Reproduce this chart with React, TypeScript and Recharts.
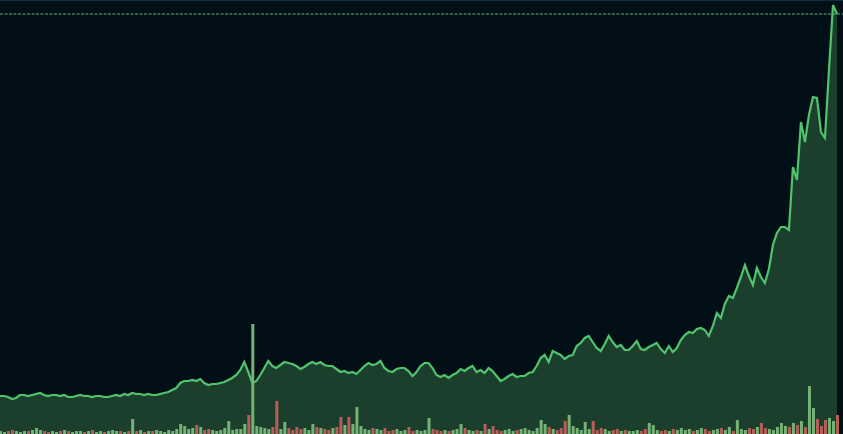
import { ComposedChart, Area, Bar, Cell, XAxis, YAxis, ReferenceLine } from "recharts";

// closing price, one entry per session (oldest first)
const prices = [
  3.8, 3.8, 3.7, 3.5, 3.6, 3.9, 3.9, 3.8, 3.9, 4.0,
  4.1, 3.9, 3.8, 3.9, 3.9, 3.8, 3.9, 3.7, 3.7, 3.8,
  3.9, 3.8, 3.8, 3.7, 3.8, 3.8, 3.7, 3.7, 3.8, 3.9,
  3.8, 4.0, 3.9, 4.1, 4.0, 4.0, 3.9, 4.0, 3.9, 3.9,
  4.0, 4.1, 4.2, 4.4, 4.6, 5.1, 5.3, 5.3, 5.4, 5.3,
  5.5, 5.1, 4.9, 5.0, 5.0, 5.1, 5.2, 5.4, 5.6, 5.9,
  6.4, 7.2, 6.2, 5.1, 5.3, 5.9, 6.6, 7.3, 6.8, 6.6,
  6.9, 7.2, 7.1, 7.0, 6.8, 6.5, 6.7, 7.0, 7.2, 7.0,
  7.2, 6.9, 6.8, 6.8, 6.5, 6.2, 6.3, 6.1, 6.2, 6.0,
  6.4, 6.8, 7.1, 6.9, 7.0, 7.3, 6.6, 6.3, 6.2, 6.5,
  6.6, 6.6, 6.3, 5.8, 6.2, 6.8, 7.1, 7.1, 6.6, 5.9,
  5.7, 5.9, 5.6, 5.9, 6.1, 6.5, 6.3, 6.6, 6.8, 6.2,
  6.4, 6.1, 6.6, 6.3, 5.8, 5.3, 5.5, 5.8, 6.0, 5.7,
  5.8, 5.8, 6.1, 6.2, 6.8, 7.6, 7.9, 7.2, 8.3, 8.1,
  7.9, 7.5, 7.8, 7.9, 8.8, 9.1, 9.6, 9.8, 9.2, 8.6,
  8.3, 9.0, 9.8, 9.2, 8.7, 8.9, 8.4, 8.4, 8.8, 9.3,
  8.5, 8.4, 8.7, 8.9, 9.1, 8.5, 8.1, 8.8, 8.2, 8.6,
  9.4, 9.9, 10.2, 10.1, 10.5, 10.6, 10.4, 9.8, 10.8, 12.1,
  11.6, 13.0, 13.8, 13.6, 14.6, 15.7, 16.9, 15.8, 14.9, 16.6,
  15.7, 15.1, 16.5, 18.9, 20.1, 20.7, 20.7, 20.4, 26.7, 25.4,
  31.2, 29.2, 31.9, 33.7, 33.6, 30.2, 29.6, 36.4, 42.9, 42.0,
];

// traded volume per session, thousands
const volumes = [
  3, 2, 3, 4, 3, 2, 3, 3, 4, 6,
  4, 3, 2, 3, 2, 3, 4, 3, 2, 3,
  3, 2, 3, 4, 2, 3, 2, 3, 4, 3,
  3, 2, 3, 15, 3, 4, 2, 3, 3, 4,
  3, 2, 4, 3, 5, 10, 8, 5, 6, 9,
  7, 4, 5, 4, 3, 4, 6, 13, 4, 5,
  5, 10, 19, 110, 8, 7, 6, 5, 7, 33,
  5, 12, 6, 4, 7, 5, 6, 4, 10, 7,
  6, 5, 4, 6, 7, 17, 9, 17, 10, 27,
  8, 5, 4, 6, 5, 4, 6, 3, 4, 5,
  3, 4, 7, 3, 4, 3, 4, 16, 5, 4,
  3, 4, 3, 4, 5, 10, 6, 4, 3, 4,
  3, 10, 5, 8, 4, 3, 4, 5, 3, 4,
  5, 6, 4, 3, 6, 14, 10, 7, 5, 4,
  6, 13, 19, 8, 6, 4, 12, 5, 13, 4,
  6, 5, 3, 4, 5, 3, 4, 3, 3, 4,
  3, 5, 11, 9, 4, 3, 4, 3, 5, 4,
  6, 4, 5, 3, 4, 6, 5, 3, 4, 5,
  6, 4, 7, 3, 14, 5, 4, 6, 5, 7,
  11, 6, 5, 4, 7, 11, 8, 7, 11, 9,
  13, 7, 48, 26, 15, 8, 14, 16, 13, 19,
];

// sessions that closed above their open despite a lower close than the day before
const upAgainstTrend = [63, 89];

const data = prices.map((p, i) => ({
  t: i,
  price: p,
  volume: volumes[i],
  up: i === 0 || p >= prices[i - 1] || upAgainstTrend.includes(i),
}));

const lastPrice = prices[prices.length - 1];

export default function App() {
  return (
    <div style={{ position: "fixed", left: 0, top: 0, width: 843, height: 434, background: "#020f16" }}>
      <ComposedChart
        width={843}
        height={434}
        data={data}
        margin={{ top: 0, right: 0, bottom: 0, left: 0 }}
      >
        <XAxis dataKey="t" type="number" domain={[0, 210.5]} hide />
        <YAxis yAxisId="price" domain={[0, 43.4]} hide />
        <YAxis yAxisId="vol" domain={[0, 434]} hide />
        <Area
          yAxisId="price"
          type="linear"
          dataKey="price"
          stroke="#4fc46c"
          strokeWidth={2.2}
          fill="#1b3f2c"
          fillOpacity={1}
          dot={false}
          activeDot={false}
          isAnimationActive={false}
        />
        <Bar yAxisId="vol" dataKey="volume" barSize={3} isAnimationActive={false}>
          {data.map((d) => (
            <Cell key={d.t} fill={d.up ? "#74b276" : "#b65f5a"} />
          ))}
        </Bar>
        <ReferenceLine
          yAxisId="price"
          y={lastPrice}
          stroke="#5cbc78"
          strokeDasharray="3 1.5"
          strokeWidth={1}
        />
      </ComposedChart>
      <div style={{ position: "absolute", left: 0, top: 0, width: 843, height: 1, background: "#0b3042" }} />
    </div>
  );
}
